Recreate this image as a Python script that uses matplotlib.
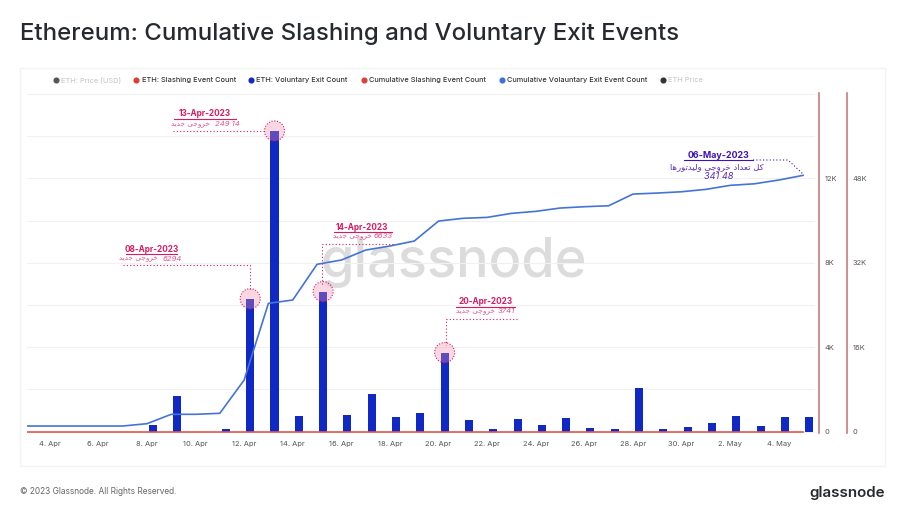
import numpy as np
import pandas as pd
import matplotlib
matplotlib.use('Agg')
import matplotlib.pyplot as plt
import matplotlib.dates as mdates
from matplotlib.patches import Rectangle
from matplotlib.transforms import Affine2D

plt.rcParams['font.family'] = ['Inter', 'DejaVu Sans']

dates = pd.date_range('2023-04-03', '2023-05-05')
exit_count = [0, 0, 0, 0, 0, 300, 1690, 0, 125, 6294, 14249, 742, 6633, 790, 1800, 710, 870,
              3741, 553, 110, 616, 300, 648, 158, 110, 2085, 125, 220, 395, 742, 253, 680, 680]
cumulative_exit = [1040, 1040, 1040, 1040, 1040, 1480, 3260, 3260, 3450, 9760, 24300, 24930, 31700,
                   32510, 34400, 35170, 36110, 39900, 40420, 40600, 41360, 41740, 42370, 42620,
                   42800, 45020, 45210, 45460, 45910, 46670, 46970, 47680, 48570]
slashing_count = [0] * 33
tick_dates = ['2023-04-04', '2023-04-06', '2023-04-08', '2023-04-10', '2023-04-12', '2023-04-14',
              '2023-04-16', '2023-04-18', '2023-04-20', '2023-04-22', '2023-04-24', '2023-04-26',
              '2023-04-28', '2023-04-30', '2023-05-02', '2023-05-04']
tick_labels = ['4. Apr', '6. Apr', '8. Apr', '10. Apr', '12. Apr', '14. Apr', '16. Apr', '18. Apr',
               '20. Apr', '22. Apr', '24. Apr', '26. Apr', '28. Apr', '30. Apr', '2. May', '4. May']
left_ticks = [0, 4000, 8000, 12000]
left_labels = ['0', '4K', '8K', '12K']
right_ticks = [0, 16000, 32000, 48000]
right_labels = ['0', '16K', '32K', '48K']
marked_dates = ['2023-04-12', '2023-04-13', '2023-04-15', '2023-04-20']
marked_values = [6294, 14249, 6633, 3741]

W, H = 900, 518
PINK = '#d81b60'
PURPLE = '#3d12b8'
AXIS_RED = '#c97a7a'
GREY = '#666666'

# contextual forms (isolated, final, initial, medial), matplotlib does not shape arabic
FORMS = {'ک': 'ﮎﮏﮐﮑ', 'ل': 'ﻝﻞﻟﻠ', 'ت': 'ﺕﺖﺗﺘ', 'ع': 'ﻉﻊﻋﻌ', 'خ': 'ﺥﺦﺧﺨ', 'ج': 'ﺝﺞﺟﺠ',
         'ی': 'ﯼﯽﯾﯿ', 'ه': 'ﻩﻪﻫﻬ', 'د': 'ﺩﺪ', 'ا': 'ﺍﺎ', 'ر': 'ﺭﺮ', 'و': 'ﻭﻮ'}


def shape(text):
    out = []
    for i, c in enumerate(text):
        if c not in FORMS:
            out.append(c)
            continue
        prev = text[i - 1] if i > 0 else ' '
        nxt = text[i + 1] if i < len(text) - 1 else ' '
        after = prev in FORMS and len(FORMS[prev]) == 4
        before = nxt in FORMS and len(FORMS[c]) == 4
        idx = 3 if after and before else 1 if after else 2 if before else 0
        out.append(FORMS[c][idx])
    return ''.join(reversed(out))


fig = plt.figure(figsize=(9, 5.18), dpi=100, facecolor='white')
px = Affine2D().scale(1, -1).translate(0, H)

ax = fig.add_axes([27 / W, (H - 433) / H, (815 - 27) / W, (433 - 92.7) / H])
ax.set_zorder(2)
ax.patch.set_visible(False)
x = mdates.date2num(dates)
x0 = mdates.date2num(pd.Timestamp('2023-04-04'))
marked_x = mdates.date2num(pd.to_datetime(marked_dates)) + 0.25

ax.set_xlim(x0 - 0.934, x0 + 31.49)
ax.set_ylim(-71, 16060)
ax.bar(x + 0.25, exit_count, width=0.33, color='#1029c4', zorder=2)
ax.plot(x, slashing_count, color='#e0574f', lw=1.2, zorder=3)
ax.scatter(marked_x, marked_values, s=207, facecolor='#f48fb1', edgecolor='none', alpha=0.35, zorder=4)
ax.scatter(marked_x, marked_values, s=207, facecolor='none', edgecolor=PINK,
           linestyle=(0, (1, 1.5)), lw=0.8, zorder=4)

ax.set_xticks(mdates.date2num(pd.to_datetime(tick_dates)))
ax.set_xticklabels(tick_labels)
ax.tick_params(axis='x', length=0, pad=6, labelsize=5.4, labelcolor='#555555')
ax.set_yticks(left_ticks)
ax.set_yticklabels(left_labels)
ax.set_yticks([2000, 6000, 10000, 14000, 16000], minor=True)
ax.grid(axis='y', which='both', color='#f1f1f1', lw=0.8)
ax.set_axisbelow(True)

ax2 = ax.twinx()
ax2.set_zorder(3)
ax2.patch.set_visible(False)
ax2.set_ylim(-284, 64240)
ax2.plot(x, cumulative_exit, color='#4474d8', lw=1.2, zorder=5)
ax2.set_yticks(right_ticks)
ax2.set_yticklabels(right_labels)

# twinx puts the first axis back on the left
ax.yaxis.tick_right()
for a, offset in [(ax, 2.9), (ax2, 22.9)]:
    a.tick_params(axis='y', which='both', length=0, pad=4, labelsize=5.4, labelcolor='#555555')
    for t in a.yaxis.get_major_ticks():
        t.label2.set_va('bottom')
    for s in ['top', 'left', 'bottom']:
        a.spines[s].set_visible(False)
    a.spines['right'].set_position(('outward', offset))
    a.spines['right'].set_color(AXIS_RED)
    a.spines['right'].set_linewidth(1.2)

# chart card
fig.add_artist(Rectangle((20, 67.5), 865, 398.5, transform=px, facecolor='none',
                         edgecolor='#f3f3f3', lw=1, zorder=0))
fig.text(20 / W, 1 - 34 / H, 'Ethereum: Cumulative Slashing and Voluntary Exit Events',
         fontsize=17.3, fontweight='medium', color='#26292e', va='center')
fig.text(20 / W, 1 - 491 / H, '© 2023 Glassnode. All Rights Reserved.', fontsize=6.0,
         color=GREY, va='center')
fig.text(885 / W, 1 - 492.5 / H, 'glassnode', fontsize=10.9, fontweight='semibold',
         color='#26292e', va='center', ha='right')
fig.text(454 / W, 1 - 263 / H, 'glassnode', fontsize=39, fontweight='medium', color='#dcdcdc',
         va='center', ha='center', zorder=1)

# legend
legend_x = [55.7, 136, 251, 363.7, 501.7, 663]
legend_colors = ['#555555', '#dc3f38', '#1029c4', '#dc3f38', '#3f6fdc', '#333333']
legend_names = ['ETH: Price (USD)', 'ETH: Slashing Event Count', 'ETH: Voluntary Exit Count',
                'Cumulative Slashing Event Count', 'Cumulative Volauntary Exit Event Count', 'ETH Price']
legend_text = ['#cccccc', '#33363b', '#33363b', '#33363b', '#33363b', '#cccccc']
for lx, lc, name, tc in zip(legend_x, legend_colors, legend_names, legend_text):
    fig.add_artist(plt.Line2D([lx], [80], marker='o', ms=3.4, color=lc, transform=px, lw=0))
    fig.text((lx + 5.5) / W, 1 - 80 / H, name, fontsize=5.3, fontweight='medium', color=tc, va='center')


def callout(date, dx, dy, word_x, word_y, num, num_x, num_y, line_x, line_y, under_y, under_x,
            color=PINK, word_color='#e0558c', date_size=5.9, word_size=5.2, num_size=5.6):
    fig.text(dx / W, 1 - dy / H, date, fontsize=date_size, fontweight='bold', color=color,
             ha='center', va='center', zorder=6)
    fig.add_artist(plt.Line2D(under_x, [under_y, under_y], color=color, lw=0.8, transform=px))
    fig.text(word_x / W, 1 - word_y / H, word, fontsize=word_size, color=word_color,
             family='DejaVu Sans', ha='center', va='center', zorder=6)
    fig.text(num_x / W, 1 - num_y / H, num, fontsize=num_size, style='italic', color=word_color,
             ha='center', va='center', zorder=6)
    fig.add_artist(plt.Line2D(line_x, line_y, color=color, lw=0.8, ls=(0, (1, 2)), transform=px, zorder=6))


word = shape('خروجی جدید')
callout('13-Apr-2023', 205, 114, 190.5, 124.5, '249 14', 227, 124,
        [173, 264], [130.7, 130.7], 119, [174, 236])
callout('08-Apr-2023', 151.7, 249, 138, 259.5, '6294', 172, 259,
        [123, 250, 250], [264.5, 264.5, 291], 254, [126, 177])
callout('14-Apr-2023', 362, 227, 352, 237.5, '6633', 383, 236.5,
        [393, 322.3, 322.3], [244, 244, 285], 232, [334, 392])
callout('20-Apr-2023', 485.7, 302, 475, 312, '3741', 506.7, 311,
        [517, 445.5, 445.5], [319, 319, 345], 306.5, [456, 515])

word = shape('کل تعداد خروجی ولیدتورها')
callout('06-May-2023', 718.7, 155, 717, 166.5, '341 48', 718.7, 176.5,
        [753, 788, 803], [160, 160, 174], 160, [684, 753], color=PURPLE, word_color='#5b2bc0',
        date_size=6.4, word_size=6.1, num_size=6.6)

fig.savefig('out.png', dpi=100)
